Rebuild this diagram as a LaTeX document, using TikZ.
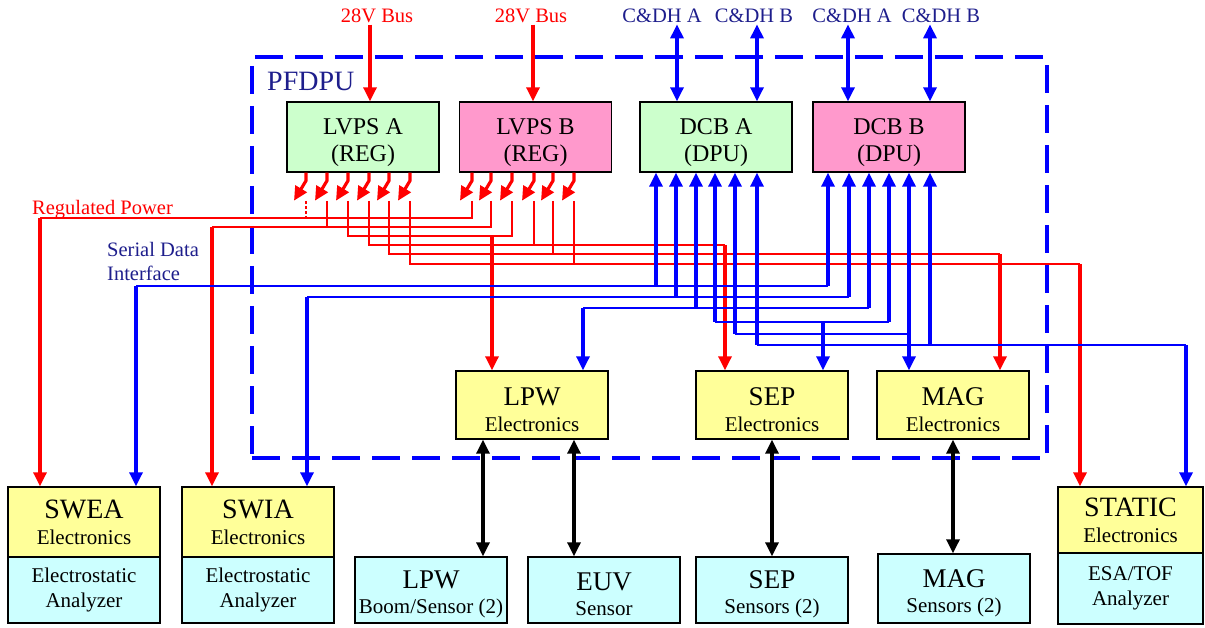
\documentclass[tikz,border=0pt]{standalone}
\usepackage{fontspec}
\setmainfont{Liberation Serif}
\usetikzlibrary{arrows.meta}
\definecolor{navy}{RGB}{30,30,140}
\definecolor{boxgreen}{RGB}{204,255,204}
\definecolor{boxpink}{RGB}{255,153,204}
\definecolor{boxyellow}{RGB}{255,255,153}
\definecolor{boxcyan}{RGB}{204,255,255}
\definecolor{pred}{RGB}{255,0,0}
\definecolor{pblue}{RGB}{0,0,255}
\begin{document}
\begin{tikzpicture}[x=1pt,y=-1pt,
  >={Triangle[length=14pt,width=13pt]},
  box/.style={draw=black,line width=1.4pt,inner sep=0pt,align=center,minimum width=152pt},
  ctrl/.style={box,minimum height=70pt,font=\fontsize{24}{27}\selectfont},
  elec/.style={box,fill=boxyellow,minimum height=68pt,font=\fontsize{21}{26}\selectfont},
  sens/.style={box,fill=boxcyan,minimum height=66pt,font=\fontsize{21}{25}\selectfont},
  rthin/.style={pred,line width=1.9pt},
  rthick/.style={pred,line width=3.2pt},
  bthin/.style={pblue,line width=1.9pt},
  bthick/.style={pblue,line width=3.2pt},
  kthick/.style={black,line width=3.2pt},
  stub/.style={pred,line width=3.2pt,-{Triangle[length=14pt,width=13pt]}},
  toplbl/.style={anchor=base,inner sep=1pt,font=\fontsize{20.5}{24}\selectfont},
  side/.style={anchor=base west,inner sep=0pt,font=\fontsize{20.5}{24}\selectfont}
]
\useasboundingbox (0,0) rectangle (1205,628);

% ---------- PFDPU frame ----------
\node[draw=pblue,line width=4.5pt,dash pattern=on 28pt off 12pt,minimum width=795pt,minimum height=401pt,inner sep=0pt] (pfdpu) at (649.5,257.5) {};
\node[anchor=base west,inner sep=0pt,navy,font=\fontsize{28}{30}\selectfont] (pfdpulbl) at (267,91) {PFDPU};

% ---------- controller boxes ----------
\node[ctrl,fill=boxgreen] (lvpsA) at (363,137) {\rule{0pt}{27pt}LVPS A\\(REG)};
\node[ctrl,fill=boxpink] (lvpsB) at (535.5,137) {\rule{0pt}{27pt}LVPS B\\(REG)};
\node[ctrl,fill=boxgreen] (dcbA) at (716,137) {\rule{0pt}{27pt}DCB A\\(DPU)};
\node[ctrl,fill=boxpink] (dcbB) at (889,137) {\rule{0pt}{27pt}DCB B\\(DPU)};

% ---------- electronics inside PFDPU ----------
\node[elec] (lpw) at (532,405) {\rule{0pt}{27pt}{\fontsize{27}{27}\selectfont LPW}\\Electronics};
\node[elec] (sep) at (772,405) {\rule{0pt}{27pt}{\fontsize{27}{27}\selectfont SEP}\\Electronics};
\node[elec] (mag) at (953,405) {\rule{0pt}{27pt}{\fontsize{27}{27}\selectfont MAG}\\Electronics};

% ---------- outside instruments ----------
\node[elec,minimum height=70pt] (swea) at (84,522) {{\fontsize{28}{28}\selectfont SWEA}\\Electronics};
\node[sens] (sweaan) at (84,590) {Electrostatic\\Analyzer};
\node[elec,minimum height=70pt] (swia) at (258,522) {{\fontsize{28}{28}\selectfont SWIA}\\Electronics};
\node[sens] (swiaan) at (258,590) {Electrostatic\\Analyzer};
\node[elec,minimum width=145pt,minimum height=66pt] (static) at (1130.5,520) {{\fontsize{28}{28}\selectfont STATIC}\\Electronics};
\node[sens,minimum width=145pt,minimum height=71pt] (statican) at (1130.5,588.5) {ESA/TOF\\Analyzer};

\node[sens] (lpws) at (431,590) {\rule{0pt}{26pt}{\fontsize{27}{27}\selectfont LPW}\\Boom/Sensor (2)};
\node[sens] (euv) at (604,590) {\rule{0pt}{26pt}{\fontsize{27}{27}\selectfont EUV}\\Sensor};
\node[sens] (seps) at (772,590) {\rule{0pt}{26pt}{\fontsize{27}{27}\selectfont SEP}\\Sensors (2)};
\node[sens,minimum height=69pt] (mags) at (954,588.5) {\rule{0pt}{28pt}{\fontsize{27}{27}\selectfont MAG}\\Sensors (2)};

% ---------- labels ----------
\node[toplbl,pred] (bus1) at (377,23) {28V Bus};
\node[toplbl,pred] (bus2) at (531,23) {28V Bus};
\node[toplbl,navy] (cdh1) at (662,23) {C\&DH A};
\node[toplbl,navy] (cdh2) at (754,23) {C\&DH B};
\node[toplbl,navy] (cdh3) at (852,23) {C\&DH A};
\node[toplbl,navy] (cdh4) at (941,23) {C\&DH B};
\node[side,pred] (regpow) at (32,215) {Regulated Power};
\node[side,navy,align=left,font=\fontsize{20.5}{24}\selectfont] (sdi) at (107,281) {Serial Data\\Interface};

% ---------- column / row coordinates ----------
\coordinate (v1) at (370,0); \coordinate (v2) at (533,0);
\coordinate (c1) at (677,0); \coordinate (c2) at (757,0);
\coordinate (c3) at (848,0); \coordinate (c4) at (930,0);
\coordinate (pa1) at (306,0); \coordinate (pa2) at (327,0); \coordinate (pa3) at (348,0);
\coordinate (pa4) at (369,0); \coordinate (pa5) at (389,0); \coordinate (pa6) at (410,0);
\coordinate (pb1) at (472,0); \coordinate (pb2) at (491,0); \coordinate (pb3) at (512,0);
\coordinate (pb4) at (534,0); \coordinate (pb5) at (553,0); \coordinate (pb6) at (574,0);
\coordinate (vtop) at (0,201);
\coordinate (r1) at (0,218); \coordinate (r2) at (0,227); \coordinate (r3) at (0,236);
\coordinate (r4) at (0,245); \coordinate (r5) at (0,254); \coordinate (r6) at (0,264);
\coordinate (rsw) at (40,0); \coordinate (rswi) at (212,0); \coordinate (rlpw) at (492,0);
\coordinate (rsep) at (725,0); \coordinate (rmag) at (1000,0); \coordinate (rst) at (1080,0);
\coordinate (da1) at (656,0); \coordinate (da2) at (676,0); \coordinate (da3) at (696,0);
\coordinate (da4) at (715,0); \coordinate (da5) at (735,0); \coordinate (da6) at (757,0);
\coordinate (db1) at (828,0); \coordinate (db2) at (849,0); \coordinate (db3) at (869,0);
\coordinate (db4) at (889,0); \coordinate (db5) at (909,0); \coordinate (db6) at (930,0);
\coordinate (b1) at (0,286); \coordinate (b2) at (0,297); \coordinate (b3) at (0,308);
\coordinate (b4) at (0,322); \coordinate (b5) at (0,334); \coordinate (b6) at (0,345);
\coordinate (bsw) at (136,0); \coordinate (bswi) at (307,0); \coordinate (blpw) at (583,0);
\coordinate (bsep) at (823,0); \coordinate (bst) at (1186,0);
\coordinate (k1) at (483,0); \coordinate (k2) at (574,0); \coordinate (k3) at (772,0); \coordinate (k4) at (953,0);

% ---------- inputs at top ----------
\draw[rthick,->] (bus1.south -| v1) -- (lvpsA.north -| v1);
\draw[rthick,->] (bus2.south -| v2) -- (lvpsB.north -| v2);
\draw[bthick,<->] (cdh1.south -| c1) -- (dcbA.north -| c1);
\draw[bthick,<->] (cdh2.south -| c2) -- (dcbA.north -| c2);
\draw[bthick,<->] (cdh3.south -| c3) -- (dcbB.north -| c3);
\draw[bthick,<->] (cdh4.south -| c4) -- (dcbB.north -| c4);

% ---------- power output stubs ----------
\foreach \p in {pa1,pa2,pa3,pa4,pa5,pa6}
  \draw[stub] (lvpsA.south -| \p) -- ++(0,8) -- ++(-12,20);
\foreach \p in {pb1,pb2,pb3,pb4,pb5,pb6}
  \draw[stub] (lvpsB.south -| \p) -- ++(0,8) -- ++(-12,20);

% ---------- regulated power distribution ----------
\draw[rthin] (pb1 |- vtop) |- (rsw |- r1);
\draw[rthin,dash pattern=on 3pt off 2pt] (pa1 |- vtop) -- (pa1 |- r1);
\draw[rthick,->] (rsw |- r1) -- (rsw |- swea.north);

\draw[rthin] (pb2 |- vtop) |- (rswi |- r2);
\draw[rthin] (pa2 |- vtop) -- (pa2 |- r2);
\draw[rthick,->] (rswi |- r2) -- (rswi |- swia.north);

\draw[rthin] (pa3 |- vtop) |- (pb3 |- r3) -- (pb3 |- vtop);
\draw[rthick,->] (rlpw |- r3) -- (rlpw |- lpw.north);

\draw[rthin] (pa4 |- vtop) |- (rsep |- r4);
\draw[rthin] (pb4 |- vtop) -- (pb4 |- r4);
\draw[rthick,->] (rsep |- r4) -- (rsep |- sep.north);

\draw[rthin] (pa5 |- vtop) |- (rmag |- r5);
\draw[rthin] (pb5 |- vtop) -- (pb5 |- r5);
\draw[rthick,->] (rmag |- r5) -- (rmag |- mag.north);

\draw[rthin] (pa6 |- vtop) |- (rst |- r6);
\draw[rthin] (pb6 |- vtop) -- (pb6 |- r6);
\draw[rthick,->] (rst |- r6) -- (rst |- static.north);

% ---------- serial data distribution ----------
\draw[bthin] (bsw |- b1) -- (db1 |- b1);
\draw[bthick,<-] (dcbA.south -| da1) -- (da1 |- b1);
\draw[bthick,<-] (dcbB.south -| db1) -- (db1 |- b1);
\draw[bthick,->] (bsw |- b1) -- (bsw |- swea.north);

\draw[bthin] (bswi |- b2) -- (db2 |- b2);
\draw[bthick,<-] (dcbA.south -| da2) -- (da2 |- b2);
\draw[bthick,<-] (dcbB.south -| db2) -- (db2 |- b2);
\draw[bthick,->] (bswi |- b2) -- (bswi |- swia.north);

\draw[bthin] (blpw |- b3) -- (db3 |- b3);
\draw[bthick,<-] (dcbA.south -| da3) -- (da3 |- b3);
\draw[bthick,<-] (dcbB.south -| db3) -- (db3 |- b3);
\draw[bthick,->] (blpw |- b3) -- (blpw |- lpw.north);

\draw[bthin] (da4 |- b4) -- (db4 |- b4);
\draw[bthick,<-] (dcbA.south -| da4) -- (da4 |- b4);
\draw[bthick,<-] (dcbB.south -| db4) -- (db4 |- b4);
\draw[bthick,->] (bsep |- b4) -- (bsep |- sep.north);

\draw[bthin] (da5 |- b5) -- (db5 |- b5);
\draw[bthick,<-] (dcbA.south -| da5) -- (da5 |- b5);
\draw[bthick,<->] (dcbB.south -| db5) -- (db5 |- mag.north);

\draw[bthin] (da6 |- b6) -- (bst |- b6);
\draw[bthick,<-] (dcbA.south -| da6) -- (da6 |- b6);
\draw[bthick,<-] (dcbB.south -| db6) -- (db6 |- b6);
\draw[bthick,->] (bst |- b6) -- (bst |- static.north);

% ---------- sensor links ----------
\draw[kthick,<->] (lpw.south -| k1) -- (lpws.north -| k1);
\draw[kthick,<->] (lpw.south -| k2) -- (euv.north -| k2);
\draw[kthick,<->] (sep.south -| k3) -- (seps.north -| k3);
\draw[kthick,<->] (mag.south -| k4) -- (mags.north -| k4);
\end{tikzpicture}
\end{document}
